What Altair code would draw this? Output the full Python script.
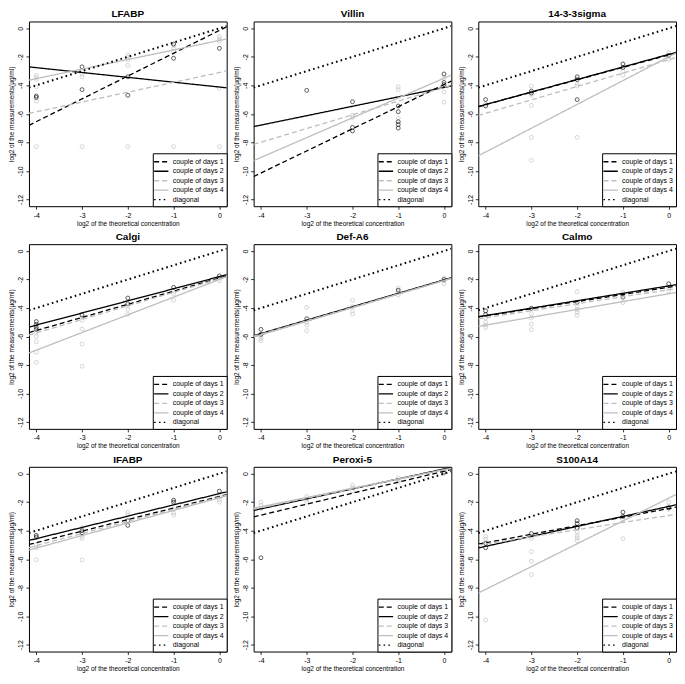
import altair as alt
import pandas as pd

FONT = "Liberation Sans"
GREY = "#bebebe"

PANELS = ["LFABP", "Villin", "14-3-3sigma", "Calgi", "Def-A6", "Calmo",
          "IFABP", "Peroxi-5", "S100A14"]
SERIES = ["couple of days 1", "couple of days 2", "couple of days 3",
          "couple of days 4", "diagonal"]
X_TICKS = [-4, -3, -2, -1, 0]
Y_TICKS = [0, -2, -4, -6, -8, -10, -12]
X_MIN, X_MAX = -4.16, 0.16
Y_MIN, Y_MAX = -12.48, 0.48

# regression lines: intercept (y at x=0) and slope for couples 1..4
INTERCEPT = {
    "LFABP": [-0.15, -4.12, -3.1, -0.85],
    "Villin": [-3.95, -4.15, -4.15, -3.5],
    "14-3-3sigma": [-1.87, -1.83, -2.2, -2.0],
    "Calgi": [-1.9, -1.8, -1.95, -2.0],
    "Def-A6": [-2.05, -2.03, -2.07, -2.08],
    "Calmo": [-2.55, -2.45, -2.72, -3.0],
    "IFABP": [-1.6, -1.4, -1.65, -1.7],
    "Peroxi-5": [0.17, 0.33, 0.25, 0.28],
    "S100A14": [-2.45, -2.3, -2.93, -1.72],
}
SLOPE = {
    "LFABP": [1.6, -0.34, 0.69, 0.67],
    "Villin": [1.55, 0.66, 0.96, 1.39],
    "14-3-3sigma": [0.87, 0.88, 0.94, 1.67],
    "Calgi": [0.92, 0.85, 0.95, 1.24],
    "Def-A6": [0.95, 0.94, 0.94, 0.95],
    "Calmo": [0.5, 0.52, 0.49, 0.55],
    "IFABP": [0.81, 0.79, 0.85, 0.88],
    "Peroxi-5": [0.77, 0.7, 0.66, 0.65],
    "S100A14": [0.6, 0.7, 0.5, 1.6],
}
DIAG_INTERCEPT, DIAG_SLOPE = 0.0, 1.0

POINTS_BLACK = {
    "LFABP": [(-4, -4.75), (-4, -4.85), (-3, -2.7), (-3, -4.3), (-2, -3.4), (-2, -4.7),
              (-1, -2.1), (-1, -1.1), (0, -1.4)],
    "Villin": [(-3, -4.35), (-2, -5.15), (-2, -6.95), (-2, -7.2), (-1, -5.45), (-1, -5.85),
               (-1, -6.55), (-1, -6.75), (-1, -7.0), (0, -3.2), (0, -3.8), (0, -3.95)],
    "14-3-3sigma": [(-4, -5.0), (-4, -5.45), (-3, -4.4), (-3, -4.55), (-2, -3.4), (-2, -3.6),
                    (-2, -5.0), (-1, -2.5), (-1, -2.75), (0, -1.9)],
    "Calgi": [(-4, -4.95), (-4, -5.15), (-4, -5.35), (-4, -5.5), (-3, -4.5), (-2, -3.3),
              (-2, -3.7), (-1, -2.55), (0, -1.75)],
    "Def-A6": [(-4, -5.5), (-4, -5.85), (-3, -4.75), (-1, -2.75), (0, -2.0)],
    "Calmo": [(-4, -4.2), (-4, -4.45), (-3, -4.02), (-2, -3.6), (-1, -3.24), (0, -2.3)],
    "IFABP": [(-4, -4.33), (-4, -4.45), (-3, -4.0), (-3, -4.15), (-2, -3.3), (-2, -3.63),
              (-1, -1.86), (-1, -2.0), (0, -1.23)],
    "Peroxi-5": [(-4, -5.9), (0, 0.1)],
    "S100A14": [(-4, -4.9), (-4, -5.2), (-3, -4.2), (-2, -3.3), (-2, -3.5), (-2, -3.8),
                (-1, -2.7), (-1, -3.0), (0, -2.4)],
}
POINTS_GREY = {
    "LFABP": [(-4, -3.3), (-4, -3.45), (-4, -3.6), (-4, -4.1), (-4, -5.1), (-3, -3.0),
              (-3, -3.2), (-3, -3.4), (-2, -1.9), (-2, -2.05), (-2, -2.2), (-2, -2.6),
              (-1, -1.2), (-1, -1.4), (-1, -1.6), (0, -0.6), (0, -0.75), (0, -0.9),
              (0, -4.2), (-4, -8.3), (-3, -8.3), (-2, -8.3), (-1, -8.3), (0, -8.3)],
    "Villin": [(-2, -6.1), (-2, -6.25), (-1, -4.1), (-1, -4.3), (-1, -6.3), (0, -3.5),
               (0, -4.48), (0, -5.18)],
    "14-3-3sigma": [(-4, -5.3), (-3, -4.05), (-3, -4.7), (-3, -5.4), (-3, -7.65), (-3, -9.26),
                    (-2, -3.9), (-2, -4.05), (-2, -7.65), (-1, -3.0), (-1, -3.3), (0, -1.7),
                    (0, -1.95), (0, -2.2)],
    "Calgi": [(-4, -5.7), (-4, -6.0), (-4, -6.37), (-4, -7.1), (-4, -7.82), (-3, -4.65),
              (-3, -4.85), (-3, -5.47), (-3, -6.53), (-3, -8.09), (-2, -3.85), (-2, -4.1),
              (-2, -4.45), (-1, -2.8), (-1, -3.0), (-1, -3.46), (0, -1.9), (0, -2.1)],
    "Def-A6": [(-4, -6.0), (-4, -6.15), (-4, -6.3), (-3, -3.96), (-3, -5.0), (-3, -5.2),
               (-3, -5.59), (-2, -3.46), (-2, -3.9), (-2, -4.2), (-2, -4.42), (-1, -2.6),
               (-1, -2.9), (-1, -3.1), (0, -1.9), (0, -2.1), (0, -2.3)],
    "Calmo": [(-4, -4.7), (-4, -5.0), (-4, -5.2), (-4, -5.37), (-3, -4.4), (-3, -4.7),
              (-3, -5.14), (-3, -5.52), (-2, -2.86), (-2, -3.9), (-2, -4.1), (-2, -4.3),
              (-2, -4.51), (-1, -2.9), (-1, -3.05), (-1, -3.62), (0, -2.6), (0, -2.8)],
    "IFABP": [(-4, -5.0), (-4, -5.2), (-4, -6.05), (-3, -3.8), (-3, -4.4), (-3, -4.55),
              (-3, -6.05), (-2, -2.7), (-2, -2.9), (-1, -2.5), (-1, -2.75), (-1, -2.91),
              (0, -1.6), (0, -1.8), (0, -2.0)],
    "Peroxi-5": [(-4, -2.0), (-4, -2.2), (-4, -2.45), (-3, -1.6), (-3, -1.8), (-3, -2.0),
                 (-2, -0.8), (-2, -1.0), (-2, -1.2), (-1, -0.3), (-1, -0.45), (-1, -0.6),
                 (0, 0.0), (0, 0.15)],
    "S100A14": [(-4, -4.4), (-4, -4.6), (-4, -4.8), (-4, -10.27), (-3, -4.4), (-3, -4.55),
                (-3, -5.47), (-3, -6.14), (-3, -7.08), (-2, -3.8), (-2, -4.1), (-2, -4.35),
                (-2, -4.5), (-2, -4.7), (-1, -3.2), (-1, -4.56), (0, -2.0), (0, -2.3),
                (0, -2.5)],
}

LINE_COLORS = ["black", "black", GREY, GREY, "black"]
LINE_DASHES = [[5, 3], [1, 0], [5, 3], [1, 0], [1.6, 3.2]]

X_TITLE = "log2 of the theoretical concentration"
Y_TITLE = "log2 of the measurements(µg/ml)"

W, H = 198, 185


def panel(name):
    black = pd.DataFrame(POINTS_BLACK[name], columns=["x", "y"])
    grey = pd.DataFrame(POINTS_GREY[name], columns=["x", "y"])
    rows = []
    params = list(zip(INTERCEPT[name], SLOPE[name])) + [(DIAG_INTERCEPT, DIAG_SLOPE)]
    for s, (a, b) in zip(SERIES, params):
        for xv in (X_MIN, X_MAX):
            rows.append({"series": s, "x": xv, "y": a + b * xv})
    lines = pd.DataFrame(rows)

    xs = alt.Scale(domain=[X_MIN, X_MAX], nice=False, zero=False)
    ys = alt.Scale(domain=[Y_MIN, Y_MAX], nice=False, zero=False)
    xax = alt.Axis(values=X_TICKS, title=X_TITLE, labelExpr="'' + datum.value")
    yax = alt.Axis(values=Y_TICKS, title=Y_TITLE, labelExpr="'' + datum.value",
                   labelAngle=-90, labelAlign="center", labelBaseline="bottom")
    enc = dict(x=alt.X("x:Q", scale=xs, axis=xax), y=alt.Y("y:Q", scale=ys, axis=yax))

    pt = dict(shape="circle", filled=False, size=15, strokeWidth=0.9, clip=True)
    p_grey = alt.Chart(grey).mark_point(color=GREY, **pt).encode(**enc)
    p_black = alt.Chart(black).mark_point(color="black", **pt).encode(**enc)

    legend = alt.Legend(title=None, orient="bottom-right", offset=0, padding=3,
                        strokeColor="black", fillColor="white", symbolType="M-1.6,0H1.6",
                        labelFontSize=7, labelFont=FONT, labelColor="black",
                        symbolSize=80, symbolStrokeWidth=1.3, rowPadding=0.5,
                        labelOffset=6, labelLimit=0)
    color = alt.Color("series:N", scale=alt.Scale(domain=SERIES, range=LINE_COLORS),
                      legend=legend)
    dash = alt.StrokeDash("series:N", scale=alt.Scale(domain=SERIES, range=LINE_DASHES),
                          legend=legend)
    lns = alt.Chart(lines).transform_filter(
        alt.datum.series != "diagonal"
    ).mark_line(clip=True, strokeWidth=1.3).encode(color=color, strokeDash=dash, **enc)
    diag = alt.Chart(lines).transform_filter(
        alt.datum.series == "diagonal"
    ).mark_line(clip=True, strokeWidth=2).encode(color=color, strokeDash=dash, **enc)
    return alt.layer(p_grey, p_black, lns, diag).properties(width=W, height=H, title=name)


def resolve(c):
    return c.resolve_scale(color="independent", strokeDash="independent").resolve_legend(
        color="independent", strokeDash="independent")


rows = []
for r in range(3):
    rows.append(resolve(alt.hconcat(*[panel(n) for n in PANELS[r * 3:(r + 1) * 3]], spacing=5)))

chart = resolve(alt.vconcat(*rows, spacing=4)).properties(padding=0)
chart = chart.configure_view(stroke="black", strokeWidth=1).configure_axis(
    grid=False, domain=False, tickColor="black", tickSize=3, tickWidth=0.8,
    labelFontSize=7, labelColor="black", labelFont=FONT, labelPadding=2,
    titleFont=FONT, titleFontSize=6.5, titleFontWeight="normal", titleColor="black",
    titlePadding=2,
).configure_title(
    font=FONT, fontSize=10, fontWeight="bold", offset=2, color="black", anchor="middle"
)

chart.save("out.html", embed_options={"renderer": "svg", "actions": False})
